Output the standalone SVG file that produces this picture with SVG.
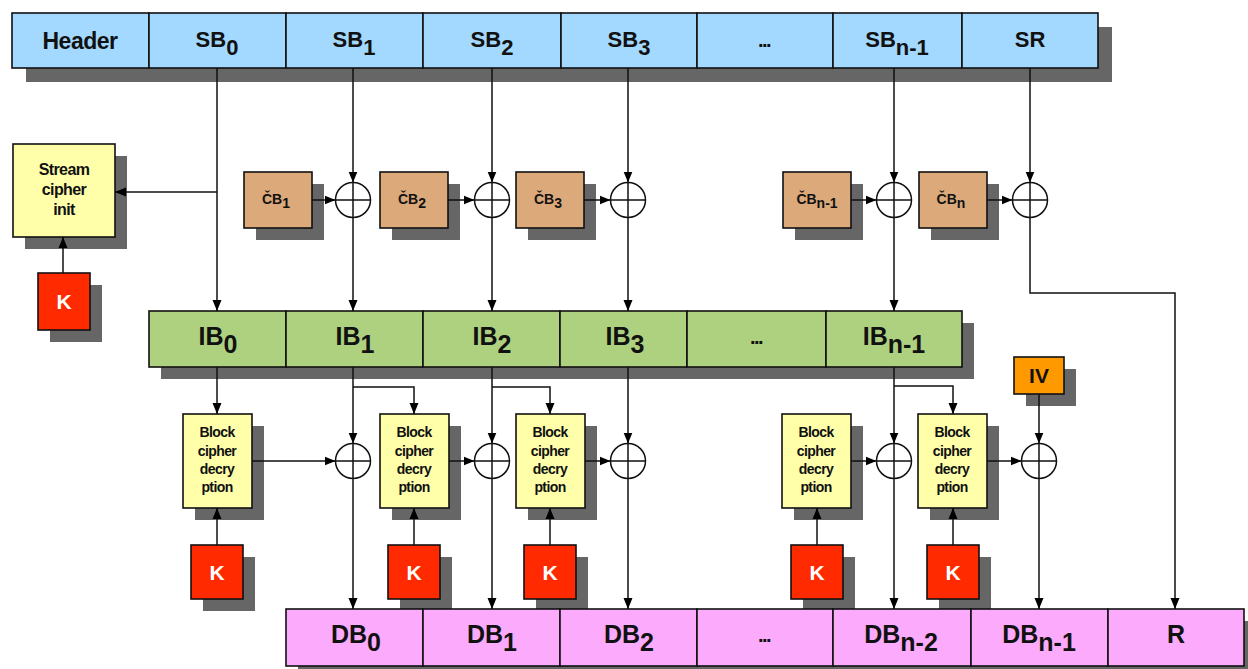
<svg xmlns="http://www.w3.org/2000/svg" width="1248" height="669" viewBox="0 0 1248 669">
<defs>
<marker id="ah" markerUnits="userSpaceOnUse" markerWidth="12" markerHeight="10" refX="11" refY="5" orient="auto">
<path d="M0,0.5 L11,5 L0,9.5 Z" fill="#000"/>
</marker>
<style>
.sh{fill:#666}
.bl{fill:#a3d8ff;stroke:#111;stroke-width:1.6}
.gr{fill:#aed17f;stroke:#111;stroke-width:1.6}
.pk{fill:#fcaafc;stroke:#111;stroke-width:1.6}
.tan{fill:#dca97b;stroke:#111;stroke-width:1.6}
.yl{fill:#ffffaa;stroke:#111;stroke-width:1.6}
.rd{fill:#ff2a00;stroke:#111;stroke-width:1.6}
.or{fill:#ff9900;stroke:#111;stroke-width:1.6}
.x{fill:#fff;stroke:#111;stroke-width:1.5}
.ln{fill:none;stroke:#111;stroke-width:1.5}
.c{stroke:#111;stroke-width:1.5;fill:none;marker-end:url(#ah)}
text{font-family:"Liberation Sans",Arial,sans-serif;font-weight:bold;text-anchor:middle;fill:#111}
.t22{font-size:22px}
.hd{font-size:23px;letter-spacing:-0.5px}
.t25{font-size:25px}
.sm{font-size:14px;letter-spacing:-0.6px}
.st{font-size:16px;letter-spacing:-0.6px}
.cb{font-size:14px}
.k{font-size:21px;fill:#fff}
.dots{font-size:20px;letter-spacing:-1.6px}
</style>
</defs>

<!-- shadows -->
<g id="shadows">
<rect class="sh" x="26" y="27" width="1086" height="55"/>
<rect class="sh" x="161" y="323" width="813" height="56"/>
<rect class="sh" x="25" y="156" width="102" height="93"/>
<rect class="sh" x="50" y="285" width="52" height="57"/>
<rect class="sh" x="256" y="184" width="68" height="56"/>
<rect class="sh" x="392" y="184" width="68" height="56"/>
<rect class="sh" x="528" y="184" width="68" height="56"/>
<rect class="sh" x="795" y="184" width="68" height="56"/>
<rect class="sh" x="931" y="184" width="68" height="56"/>
<rect class="sh" x="195" y="426" width="69" height="94"/>
<rect class="sh" x="392" y="426" width="69" height="94"/>
<rect class="sh" x="528" y="426" width="69" height="94"/>
<rect class="sh" x="794" y="426" width="69" height="94"/>
<rect class="sh" x="930" y="426" width="69" height="94"/>
<rect class="sh" x="203" y="557" width="52" height="54"/>
<rect class="sh" x="400" y="557" width="52" height="54"/>
<rect class="sh" x="536" y="557" width="52" height="54"/>
<rect class="sh" x="803" y="557" width="52" height="54"/>
<rect class="sh" x="939" y="557" width="52" height="54"/>
<rect class="sh" x="1026" y="369" width="50" height="37"/>
<rect class="sh" x="298" y="621" width="958" height="57"/>
</g>

<!-- top bar -->
<g id="header"><rect class="bl" x="12" y="13" width="137" height="55"/><text class="hd" x="80" y="49">Header</text></g>
<g id="sb0"><rect class="bl" x="149" y="13" width="137" height="55"/><text class="t22" x="217" y="47">SB<tspan dy="8">0</tspan></text></g>
<g id="sb1"><rect class="bl" x="286" y="13" width="137" height="55"/><text class="t22" x="354" y="47">SB<tspan dy="8">1</tspan></text></g>
<g id="sb2"><rect class="bl" x="423" y="13" width="138" height="55"/><text class="t22" x="492" y="47">SB<tspan dy="8">2</tspan></text></g>
<g id="sb3"><rect class="bl" x="561" y="13" width="136" height="55"/><text class="t22" x="629" y="47">SB<tspan dy="8">3</tspan></text></g>
<g id="sbdots"><rect class="bl" x="697" y="13" width="136" height="55"/><text class="dots" x="764" y="47">...</text></g>
<g id="sbn1"><rect class="bl" x="833" y="13" width="129" height="55"/><text class="t22" x="897" y="47">SB<tspan dy="8">n-1</tspan></text></g>
<g id="sr"><rect class="bl" x="962" y="13" width="136" height="55"/><text class="t22" x="1030" y="47">SR</text></g>

<!-- stream cipher init + K -->
<g id="streaminit"><rect class="yl" x="13" y="144" width="102" height="93"/>
<text class="st" x="64" y="175">Stream</text><text class="st" x="64" y="195">cipher</text><text class="st" x="64" y="215">init</text></g>
<g id="k0"><rect class="rd" x="38" y="273" width="52" height="57"/><text class="k" x="64" y="309">K</text></g>

<!-- CB boxes -->
<g id="cb1"><rect class="tan" x="244" y="172" width="68" height="56"/><text class="cb" x="276" y="204">ČB<tspan dy="4">1</tspan></text></g>
<g id="cb2"><rect class="tan" x="380" y="172" width="68" height="56"/><text class="cb" x="412" y="204">ČB<tspan dy="4">2</tspan></text></g>
<g id="cb3"><rect class="tan" x="516" y="172" width="68" height="56"/><text class="cb" x="548" y="204">ČB<tspan dy="4">3</tspan></text></g>
<g id="cbn1"><rect class="tan" x="783" y="172" width="68" height="56"/><text class="cb" x="817" y="204">ČB<tspan dy="4">n-1</tspan></text></g>
<g id="cbn"><rect class="tan" x="919" y="172" width="68" height="56"/><text class="cb" x="951" y="204">ČB<tspan dy="4">n</tspan></text></g>

<!-- IB bar -->
<g id="ib0"><rect class="gr" x="149" y="311" width="137" height="56"/><text class="t25" x="218" y="345">IB<tspan dy="8">0</tspan></text></g>
<g id="ib1"><rect class="gr" x="286" y="311" width="137" height="56"/><text class="t25" x="355" y="345">IB<tspan dy="8">1</tspan></text></g>
<g id="ib2"><rect class="gr" x="423" y="311" width="137" height="56"/><text class="t25" x="492" y="345">IB<tspan dy="8">2</tspan></text></g>
<g id="ib3"><rect class="gr" x="560" y="311" width="127" height="56"/><text class="t25" x="625" y="345">IB<tspan dy="8">3</tspan></text></g>
<g id="ibdots"><rect class="gr" x="687" y="311" width="139" height="56"/><text class="dots" x="756" y="344">...</text></g>
<g id="ibn1"><rect class="gr" x="826" y="311" width="136" height="56"/><text class="t25" x="894" y="345">IB<tspan dy="8">n-1</tspan></text></g>

<!-- IV -->
<g id="iv"><rect class="or" x="1014" y="357" width="50" height="37"/><text class="k" x="1039" y="383" style="fill:#111">IV</text></g>

<!-- Block cipher boxes -->
<g id="bc0"><rect class="yl" x="183" y="414" width="69" height="94"/><text class="sm" x="217" y="437">Block</text><text class="sm" x="217" y="456">cipher</text><text class="sm" x="217" y="474">decry</text><text class="sm" x="217" y="492">ption</text></g>
<g id="bc1"><rect class="yl" x="380" y="414" width="69" height="94"/><text class="sm" x="414" y="437">Block</text><text class="sm" x="414" y="456">cipher</text><text class="sm" x="414" y="474">decry</text><text class="sm" x="414" y="492">ption</text></g>
<g id="bc2"><rect class="yl" x="516" y="414" width="69" height="94"/><text class="sm" x="550" y="437">Block</text><text class="sm" x="550" y="456">cipher</text><text class="sm" x="550" y="474">decry</text><text class="sm" x="550" y="492">ption</text></g>
<g id="bcn2"><rect class="yl" x="782" y="414" width="69" height="94"/><text class="sm" x="816" y="437">Block</text><text class="sm" x="816" y="456">cipher</text><text class="sm" x="816" y="474">decry</text><text class="sm" x="816" y="492">ption</text></g>
<g id="bcn1"><rect class="yl" x="918" y="414" width="69" height="94"/><text class="sm" x="952" y="437">Block</text><text class="sm" x="952" y="456">cipher</text><text class="sm" x="952" y="474">decry</text><text class="sm" x="952" y="492">ption</text></g>

<!-- K boxes -->
<g id="k1"><rect class="rd" x="191" y="545" width="52" height="54"/><text class="k" x="217" y="580">K</text></g>
<g id="k2"><rect class="rd" x="388" y="545" width="52" height="54"/><text class="k" x="414" y="580">K</text></g>
<g id="k3"><rect class="rd" x="524" y="545" width="52" height="54"/><text class="k" x="550" y="580">K</text></g>
<g id="k4"><rect class="rd" x="791" y="545" width="52" height="54"/><text class="k" x="817" y="580">K</text></g>
<g id="k5"><rect class="rd" x="927" y="545" width="52" height="54"/><text class="k" x="953" y="580">K</text></g>

<!-- DB bar -->
<g id="db0"><rect class="pk" x="286" y="609" width="137" height="57"/><text class="t25" x="356" y="643">DB<tspan dy="8">0</tspan></text></g>
<g id="db1"><rect class="pk" x="423" y="609" width="137" height="57"/><text class="t25" x="492" y="643">DB<tspan dy="8">1</tspan></text></g>
<g id="db2"><rect class="pk" x="560" y="609" width="137" height="57"/><text class="t25" x="629" y="643">DB<tspan dy="8">2</tspan></text></g>
<g id="dbdots"><rect class="pk" x="697" y="609" width="136" height="57"/><text class="dots" x="764" y="642">...</text></g>
<g id="dbn2"><rect class="pk" x="833" y="609" width="138" height="57"/><text class="t25" x="901" y="643">DB<tspan dy="8">n-2</tspan></text></g>
<g id="dbn1"><rect class="pk" x="971" y="609" width="137" height="57"/><text class="t25" x="1039" y="643">DB<tspan dy="8">n-1</tspan></text></g>
<g id="r"><rect class="pk" x="1108" y="609" width="136" height="57"/><text class="t25" x="1176" y="643">R</text></g>

<!-- connectors -->
<g id="connectors">
<path class="c" d="M217 68 V311"/>
<path class="c" d="M217 192 H115"/>
<path class="c" d="M63 273 V237"/>
<path class="c" d="M353 68 V182.5"/><path class="c" d="M353 217.5 V311"/><path class="c" d="M312 200 H335.5"/>
<path class="c" d="M492 68 V182.5"/><path class="c" d="M492 217.5 V311"/><path class="c" d="M448 200 H474.5"/>
<path class="c" d="M628 68 V182.5"/><path class="c" d="M628 217.5 V311"/><path class="c" d="M584 200 H610.5"/>
<path class="c" d="M894 68 V182.5"/><path class="c" d="M894 217.5 V311"/><path class="c" d="M851 200 H876.5"/>
<path class="c" d="M1030 68 V182.5"/><path class="c" d="M1030 217.5 V293 H1175 V609"/><path class="c" d="M987 200 H1012.5"/>

<path class="c" d="M217 367 V414"/>
<path class="c" d="M353 367 V443.5"/><path class="c" d="M353 478.5 V609"/><path class="c" d="M353 387 H414 V414"/><path class="c" d="M252 461 H335.5"/>
<path class="c" d="M492 367 V443.5"/><path class="c" d="M492 478.5 V609"/><path class="c" d="M492 387 H550 V414"/><path class="c" d="M449 461 H474.5"/>
<path class="c" d="M628 367 V443.5"/><path class="c" d="M628 478.5 V609"/><path class="c" d="M585 461 H610.5"/>
<path class="c" d="M894 367 V443.5"/><path class="c" d="M894 478.5 V609"/><path class="c" d="M894 386 H953 V414"/><path class="c" d="M851 461 H876.5"/>
<path class="c" d="M1039 394 V443.5"/><path class="c" d="M1039 478.5 V609"/><path class="c" d="M987 461 H1021.5"/>

<path class="c" d="M217 545 V508"/>
<path class="c" d="M414 545 V508"/>
<path class="c" d="M550 545 V508"/>
<path class="c" d="M817 545 V508"/>
<path class="c" d="M953 545 V508"/>
</g>

<!-- XOR nodes -->
<g id="xor1"><circle class="x" cx="353" cy="200" r="17.5"/><path class="ln" d="M335.5 200 H370.5 M353 182.5 V217.5"/></g>
<g id="xor2"><circle class="x" cx="492" cy="200" r="17.5"/><path class="ln" d="M474.5 200 H509.5 M492 182.5 V217.5"/></g>
<g id="xor3"><circle class="x" cx="628" cy="200" r="17.5"/><path class="ln" d="M610.5 200 H645.5 M628 182.5 V217.5"/></g>
<g id="xor4"><circle class="x" cx="894" cy="200" r="17.5"/><path class="ln" d="M876.5 200 H911.5 M894 182.5 V217.5"/></g>
<g id="xor5"><circle class="x" cx="1030" cy="200" r="17.5"/><path class="ln" d="M1012.5 200 H1047.5 M1030 182.5 V217.5"/></g>
<g id="xor6"><circle class="x" cx="353" cy="461" r="17.5"/><path class="ln" d="M335.5 461 H370.5 M353 443.5 V478.5"/></g>
<g id="xor7"><circle class="x" cx="492" cy="461" r="17.5"/><path class="ln" d="M474.5 461 H509.5 M492 443.5 V478.5"/></g>
<g id="xor8"><circle class="x" cx="628" cy="461" r="17.5"/><path class="ln" d="M610.5 461 H645.5 M628 443.5 V478.5"/></g>
<g id="xor9"><circle class="x" cx="894" cy="461" r="17.5"/><path class="ln" d="M876.5 461 H911.5 M894 443.5 V478.5"/></g>
<g id="xor10"><circle class="x" cx="1039" cy="461" r="17.5"/><path class="ln" d="M1021.5 461 H1056.5 M1039 443.5 V478.5"/></g>
</svg>
